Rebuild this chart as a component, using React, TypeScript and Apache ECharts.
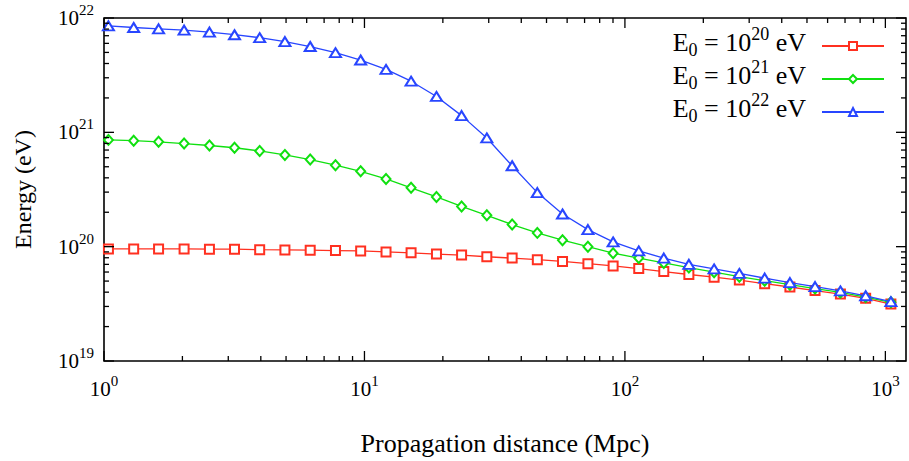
import React, { useEffect, useRef } from "react";
import * as echarts from "echarts";

const distances = [1.04, 1.3, 1.62, 2.03, 2.54, 3.17, 3.96, 4.95, 6.19, 7.74, 9.67, 12.1, 15.1, 18.9, 23.6, 29.5, 36.9, 46.1, 57.6, 72.1, 90.1, 113, 141, 176, 220, 275, 344, 430, 537, 672, 840, 1050];

const energy20 = [9.55e19, 9.55e19, 9.55e19, 9.55e19, 9.5e19, 9.5e19, 9.42e19, 9.37e19, 9.31e19, 9.24e19, 9.18e19, 9.0e19, 8.83e19, 8.61e19, 8.44e19, 8.16e19, 7.94e19, 7.69e19, 7.43e19, 7.1e19, 6.78e19, 6.43e19, 6.06e19, 5.71e19, 5.41e19, 5.1e19, 4.75e19, 4.44e19, 4.13e19, 3.85e19, 3.53e19, 3.15e19];
const energy21 = [8.59e20, 8.46e20, 8.26e20, 7.98e20, 7.67e20, 7.33e20, 6.87e20, 6.34e20, 5.78e20, 5.16e20, 4.56e20, 3.91e20, 3.27e20, 2.72e20, 2.25e20, 1.88e20, 1.56e20, 1.32e20, 1.14e20, 1.0e20, 8.77e19, 7.95e19, 7.2e19, 6.56e19, 5.98e19, 5.46e19, 5.04e19, 4.65e19, 4.3e19, 3.98e19, 3.62e19, 3.26e19];
const energy22 = [8.54e21, 8.26e21, 8.04e21, 7.84e21, 7.53e21, 7.14e21, 6.73e21, 6.22e21, 5.63e21, 4.97e21, 4.29e21, 3.55e21, 2.8e21, 2.06e21, 1.4e21, 8.93e20, 5.1e20, 2.97e20, 1.93e20, 1.41e20, 1.1e20, 9.18e19, 7.95e19, 7.0e19, 6.39e19, 5.83e19, 5.31e19, 4.85e19, 4.48e19, 4.1e19, 3.72e19, 3.3e19];

const seriesNames = ["E0 = 10^20 eV", "E0 = 10^21 eV", "E0 = 10^22 eV"];
const seriesExponents = ["20", "21", "22"];
const seriesColors = ["#ff3020", "#10e010", "#2846ff"];
const seriesSymbols = ["emptyRect", "emptyDiamond", "emptyTriangle"];

const xMin = 1;
const xMax = 1200;
const yMin = 1e19;
const yMax = 1e22;
const xDecades = [0, 1, 2, 3];
const yDecades = [19, 20, 21];
const minorMultipliers = [1, 2, 3, 4, 5, 6, 7, 8, 9];

const FONT = "Liberation Serif";

function buildTicks(decades: number[], lo: number, hi: number) {
  const out: number[][] = [];
  decades.forEach((d) => {
    minorMultipliers.forEach((m) => {
      const v = m * Math.pow(10, d);
      if (v >= lo * 0.999 && v <= hi * 1.001) out.push([v, m === 1 ? 1 : 0]);
    });
  });
  if (hi === yMax) out.push([yMax, 1]);
  return out;
}

function powLabel(v: number) {
  const k = Math.log10(v);
  const r = Math.round(k);
  if (Math.abs(k - r) > 1e-6) return "";
  return "{b|10}{s|" + r + "}";
}

export default function App() {
  const ref = useRef<HTMLDivElement>(null);
  useEffect(() => {
    if (!ref.current) return;
    const chart = echarts.init(ref.current, undefined, { renderer: "svg" });
    const xTicks = buildTicks(xDecades, xMin, xMax).map((t) => [t[0], yMin, t[1]]);
    const yTicks = buildTicks(yDecades, yMin, yMax).map((t) => [xMin, t[0], t[1]]);
    const labelRich = {
      b: { fontSize: 21, fontFamily: FONT, color: "#000", lineHeight: 24, verticalAlign: "middle" },
      s: { fontSize: 15, fontFamily: FONT, color: "#000", lineHeight: 24, verticalAlign: "middle", padding: [0, 0, 16, 0] },
    };
    const dataSets = [energy20, energy21, energy22];
    const lineSeries = dataSets.map((vals, i) => ({
      type: "line",
      name: seriesNames[i],
      data: distances.map((x, j) => [x, vals[j]]),
      symbol: seriesSymbols[i],
      symbolSize: i === 0 ? 9 : i === 1 ? [9, 10] : [11, 9],
      showAllSymbol: true,
      lineStyle: { color: seriesColors[i], width: 1.3 },
      itemStyle: { color: seriesColors[i], borderColor: seriesColors[i], borderWidth: 1.2 },
      z: 3 + i,
    }));
    const tickRender = (isX: boolean) => (params: any, api: any) => {
      const cs = params.coordSys;
      const p = api.coord([api.value(0), api.value(1)]);
      const len = api.value(2) ? 10 : 5;
      const style = { stroke: "#000", lineWidth: 1.3 };
      if (isX) {
        return {
          type: "group",
          children: [
            { type: "line", shape: { x1: p[0], y1: cs.y + cs.height, x2: p[0], y2: cs.y + cs.height - len }, style },
            { type: "line", shape: { x1: p[0], y1: cs.y, x2: p[0], y2: cs.y + len }, style },
          ],
        };
      }
      return {
        type: "group",
        children: [
          { type: "line", shape: { x1: cs.x, y1: p[1], x2: cs.x + len, y2: p[1] }, style },
          { type: "line", shape: { x1: cs.x + cs.width, y1: p[1], x2: cs.x + cs.width - len, y2: p[1] }, style },
        ],
      };
    };
    chart.setOption({
      animation: false,
      backgroundColor: "#fff",
      grid: { left: 104, top: 18, right: -2, bottom: 94, show: true, borderColor: "#000", borderWidth: 1.6, backgroundColor: "transparent" },
      legend: {
        data: seriesNames,
        orient: "vertical",
        right: 24,
        top: 25,
        padding: 0,
        align: "right",
        itemWidth: 62,
        itemHeight: 10,
        itemGap: -9,
        textStyle: {
          color: "#000",
          fontFamily: FONT,
          rich: {
            e: { fontSize: 26, fontFamily: FONT, color: "#000", lineHeight: 24, verticalAlign: "middle", padding: [0, 0, 7, 0] },
            sub: { fontSize: 18, fontFamily: FONT, color: "#000", lineHeight: 24, verticalAlign: "middle", padding: [7, 0, 0, 0] },
            sup: { fontSize: 18, fontFamily: FONT, color: "#000", lineHeight: 24, verticalAlign: "middle", padding: [0, 0, 24, 0] },
            gap: { width: 11, lineHeight: 24 },
          },
        },
        formatter: (name: string) => {
          const i = seriesNames.indexOf(name);
          return "{e|E}{sub|0}{e| = 10}{sup|" + seriesExponents[i] + "}{e| eV}{gap|}";
        },
      },
      xAxis: {
        type: "log",
        logBase: 10,
        min: xMin,
        max: xMax,
        name: "Propagation distance (Mpc)",
        nameLocation: "middle",
        nameGap: 69,
        nameTextStyle: { fontFamily: FONT, fontSize: 26, color: "#000" },
        axisLine: { show: false },
        axisTick: { show: false },
        splitLine: { show: false },
        minorTick: { show: false },
        axisLabel: { margin: 16, formatter: powLabel, rich: labelRich, showMaxLabel: true },
      },
      yAxis: {
        type: "log",
        logBase: 10,
        min: yMin,
        max: yMax,
        name: "Energy (eV)",
        nameLocation: "middle",
        nameGap: 69,
        nameTextStyle: { fontFamily: FONT, fontSize: 24, color: "#000" },
        axisLine: { show: false },
        axisTick: { show: false },
        splitLine: { show: false },
        axisLabel: { margin: 10, formatter: powLabel, rich: labelRich },
      },
      series: [
        ...lineSeries,
        { type: "custom", name: "xticks", data: xTicks, renderItem: tickRender(true), clip: false, silent: true, z: 10 },
        { type: "custom", name: "yticks", data: yTicks, renderItem: tickRender(false), clip: false, silent: true, z: 10 },
      ],
    });
    return () => chart.dispose();
  }, []);
  return <div ref={ref} style={{ width: 909, height: 461, position: "absolute", left: 0, top: 0 }} />;
}
